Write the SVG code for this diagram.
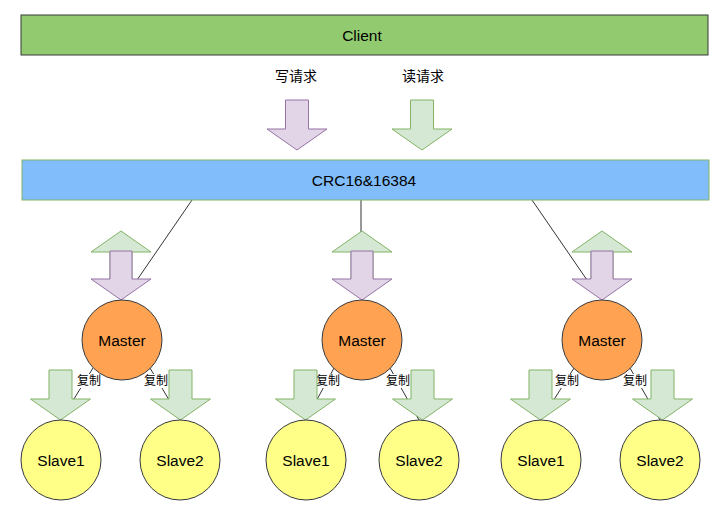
<svg xmlns="http://www.w3.org/2000/svg" width="725" height="513" viewBox="0 0 725 513">
<style>
text{font-family:"Liberation Sans","Noto Sans CJK SC",sans-serif;fill:#000;text-anchor:middle;dominant-baseline:central}
.t14{font-size:15.5px}
.t13{font-size:14px}
.t12{font-size:12px}
.bar{stroke-width:1}
.ga{fill:#d5e8d4;stroke:#82b366;stroke-width:1}
.pa{fill:#e1d5e7;stroke:#9673a6;stroke-width:1}
.master{fill:#ffa352;stroke:#36393d;stroke-width:1}
.slave{fill:#ffff88;stroke:#36393d;stroke-width:1}
.ln{stroke:#333;stroke-width:1;fill:none}
.lbg{fill:#fff}
</style>
<rect width="725" height="513" fill="#fff"/>
<g id="connectors">
<line class="ln" x1="192" y1="200" x2="137" y2="280"/>
<line class="ln" x1="361" y1="200" x2="361" y2="232"/>
<line class="ln" x1="532" y1="200" x2="587" y2="280"/>
<line class="ln" x1="93" y1="368" x2="61" y2="420"/>
<line class="ln" x1="150" y1="368" x2="181" y2="420"/>
<line class="ln" x1="334" y1="368" x2="306" y2="420"/>
<line class="ln" x1="390" y1="368" x2="419" y2="420"/>
<line class="ln" x1="574" y1="368" x2="541" y2="420"/>
<line class="ln" x1="630" y1="368" x2="660" y2="420"/>
</g>
<g id="client">
<rect class="bar" x="21" y="15" width="687" height="40" fill="#92cb6f" stroke="#36393d"/>
<text class="t14" x="362" y="35">Client</text>
</g>
<g id="write-label"><text class="t13" x="296" y="76">写请求</text></g>
<g id="read-label"><text class="t13" x="423" y="76">读请求</text></g>
<g id="write-arrow"><polygon class="pa" points="285.5,100 308.5,100 308.5,129 327,129 297,150 267,129 285.5,129"/></g>
<g id="read-arrow"><polygon class="ga" points="410.5,100 433.5,100 433.5,129 452,129 422,150 392,129 410.5,129"/></g>
<g id="crc">
<rect class="bar" x="22" y="160" width="687" height="40" fill="#80bdfa" stroke="#82b366"/>
<text class="t14" x="364" y="180">CRC16&amp;16384</text>
</g>
<g id="arrows-1">
<polygon class="ga" points="121,231 151,252 132,252 132,280 110,280 110,252 91,252"/>
<polygon class="pa" points="110,251 132,251 132,279 151,279 121,300 91,279 110,279"/>
</g>
<g id="arrows-2">
<polygon class="ga" points="362,231 392,252 373,252 373,280 351,280 351,252 332,252"/>
<polygon class="pa" points="351,251 373,251 373,279 392,279 362,300 332,279 351,279"/>
</g>
<g id="arrows-3">
<polygon class="ga" points="602,231 632,252 613,252 613,280 591,280 591,252 572,252"/>
<polygon class="pa" points="591,251 613,251 613,279 632,279 602,300 572,279 591,279"/>
</g>
<g id="master1"><circle class="master" cx="122" cy="340" r="40"/><text class="t14" x="122" y="340">Master</text></g>
<g id="master2"><circle class="master" cx="362" cy="340" r="40"/><text class="t14" x="362" y="340">Master</text></g>
<g id="master3"><circle class="master" cx="602" cy="340" r="40"/><text class="t14" x="602" y="340">Master</text></g>
<g id="copy-labels">
<rect class="lbg" x="77" y="374" width="24" height="14"/><text class="t12" x="89" y="381">复制</text>
<rect class="lbg" x="144" y="374" width="24" height="14"/><text class="t12" x="156" y="381">复制</text>
<rect class="lbg" x="316" y="374" width="24" height="14"/><text class="t12" x="328" y="381">复制</text>
<rect class="lbg" x="386" y="374" width="24" height="14"/><text class="t12" x="398" y="381">复制</text>
<rect class="lbg" x="555" y="374" width="24" height="14"/><text class="t12" x="567" y="381">复制</text>
<rect class="lbg" x="623" y="374" width="24" height="14"/><text class="t12" x="635" y="381">复制</text>
</g>
<g id="slave-arrows">
<polygon class="ga" points="49,370 72,370 72,399 90.5,399 60.5,420 30.5,399 49,399"/>
<polygon class="ga" points="169,370 192,370 192,399 210.5,399 180.5,420 150.5,399 169,399"/>
<polygon class="ga" points="294,370 317,370 317,399 335.5,399 305.5,420 275.5,399 294,399"/>
<polygon class="ga" points="411,370 434,370 434,399 452.5,399 422.5,420 392.5,399 411,399"/>
<polygon class="ga" points="529,370 552,370 552,399 570.5,399 540.5,420 510.5,399 529,399"/>
<polygon class="ga" points="651,370 674,370 674,399 692.5,399 662.5,420 632.5,399 651,399"/>
</g>
<g id="slave1-1"><circle class="slave" cx="61" cy="460" r="40"/><text class="t14" x="61" y="460">Slave1</text></g>
<g id="slave2-1"><circle class="slave" cx="180" cy="460" r="40"/><text class="t14" x="180" y="460">Slave2</text></g>
<g id="slave1-2"><circle class="slave" cx="306" cy="460" r="40"/><text class="t14" x="306" y="460">Slave1</text></g>
<g id="slave2-2"><circle class="slave" cx="419" cy="460" r="40"/><text class="t14" x="419" y="460">Slave2</text></g>
<g id="slave1-3"><circle class="slave" cx="541" cy="460" r="40"/><text class="t14" x="541" y="460">Slave1</text></g>
<g id="slave2-3"><circle class="slave" cx="660" cy="460" r="40"/><text class="t14" x="660" y="460">Slave2</text></g>
</svg>
